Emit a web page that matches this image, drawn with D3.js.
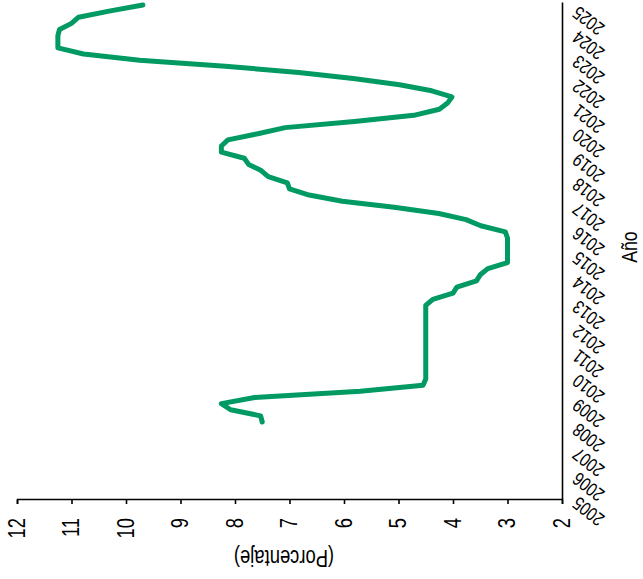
<!DOCTYPE html>
<html><head><meta charset="utf-8">
<script src="https://cdn.jsdelivr.net/npm/d3@7"></script>
<style>
body{margin:0;background:#fff}
svg{display:block}
text{font-family:"Liberation Sans",Arial,sans-serif;fill:#000}
</style>
</head><body>
<svg id="c" width="643" height="579"></svg>
<script>
// Quarterly data (Año-Trimestre)
const quarters = [
 "2008-1","2008-2","2008-3","2008-4",
 "2009-1","2009-2","2009-3","2009-4",
 "2010-1","2010-2","2010-3","2010-4",
 "2011-1","2011-2","2011-3","2011-4",
 "2012-1","2012-2","2012-3","2012-4",
 "2013-1","2013-2","2013-3","2013-4",
 "2014-1","2014-2","2014-3","2014-4",
 "2015-1","2015-2","2015-3","2015-4",
 "2016-1","2016-2","2016-3","2016-4",
 "2017-1","2017-2","2017-3","2017-4",
 "2018-1","2018-2","2018-3","2018-4",
 "2019-1","2019-2","2019-3","2019-4",
 "2020-1","2020-2","2020-3","2020-4",
 "2021-1","2021-2","2021-3","2021-4",
 "2022-1","2022-2","2022-3","2022-4",
 "2023-1","2023-2","2023-3","2023-4",
 "2024-1","2024-2","2024-3","2024-4",
 "2025-1"
];
const porcentaje = [
 7.50, 7.53, 8.08, 8.25,
 7.64, 5.70, 4.55, 4.50,
 4.50, 4.50, 4.50, 4.50,
 4.50, 4.50, 4.50, 4.50,
 4.50, 4.50, 4.50, 4.50,
 4.37, 4.00, 3.93, 3.57,
 3.50, 3.36, 3.00, 3.00,
 3.00, 3.00, 3.00, 3.04,
 3.49, 3.76, 4.26, 5.08,
 6.03, 6.64, 7.00, 7.04,
 7.39, 7.52, 7.75, 7.83,
 8.25, 8.25, 8.13, 7.58,
 7.08, 5.81, 4.72, 4.25,
 4.10, 4.02, 4.39, 4.98,
 5.83, 6.83, 8.18, 9.75,
 10.78, 11.25, 11.25, 11.25,
 11.22, 11.00, 10.87, 10.31,
 9.69
];
const yearTicks = [2005,2006,2007,2008,2009,2010,2011,2012,2013,2014,2015,2016,2017,2018,2019,2020,2021,2022,2023,2024,2025];
const valueTicks = [2,3,4,5,6,7,8,9,10,11,12];
const xTitle = "Año";
const yTitle = "(Porcentaje)";

const W = 643, H = 579;
const NARROW = 0.8; // condensed lettering
const svg = d3.select("#c");
// The whole chart is drawn in its own frame, then turned a quarter turn.
const g = svg.append("g").attr("transform", `translate(0,${H}) rotate(-90)`);

const x = d3.scaleLinear().domain([2004.82, 2025.08]).range([79, 576]);
const y = d3.scaleLinear().domain([2, 12]).range([562, 17]);

const data = quarters.map((q, i) => {
  const [yr, tr] = q.split("-").map(Number);
  return { t: yr + (tr - 1) / 4, v: porcentaje[i] };
});

// X axis (years)
const xa = g.append("g").attr("transform", "translate(0,562)")
  .call(d3.axisBottom(x).tickValues(yearTicks).tickSize(0).tickSizeOuter(0).tickFormat(d3.format("d")));
xa.select(".domain").attr("stroke", "#000").attr("stroke-width", 1.6);
xa.selectAll("text")
  .attr("x", 0).attr("y", 0).attr("dy", "0.35em")
  .attr("text-anchor", "end")
  .attr("transform", `translate(-6,13) rotate(-52) scale(${NARROW},1)`)
  .style("font-size", "19px");

// Y axis (values)
const ya = g.append("g").attr("transform", "translate(79,0)")
  .call(d3.axisLeft(y).tickValues(valueTicks).tickSize(4).tickPadding(14));
ya.select(".domain").attr("stroke", "#000").attr("stroke-width", 1.6);
ya.selectAll(".tick line").attr("stroke", "#000").attr("stroke-width", 1.6);
ya.selectAll("text")
  .attr("x", 0)
  .attr("transform", `translate(-18,0) scale(${NARROW},1)`)
  .style("font-size", "23px");

// Line
g.append("path").datum(data)
  .attr("fill", "none")
  .attr("stroke", "#009a62")
  .attr("stroke-width", 5)
  .attr("stroke-linejoin", "round")
  .attr("stroke-linecap", "round")
  .attr("d", d3.line().x(d => x(d.t)).y(d => y(d.v)));

// Titles
g.append("text").attr("transform", `translate(332,629) scale(${NARROW},1)`).attr("dy", "0.35em")
  .attr("text-anchor", "middle").style("font-size", "22px").text(xTitle);
g.append("text").attr("transform", `translate(21,284) rotate(-90) scale(${NARROW},1)`).attr("dy", "0.35em")
  .attr("text-anchor", "middle").style("font-size", "23px").text(yTitle);
</script>
</body></html>
